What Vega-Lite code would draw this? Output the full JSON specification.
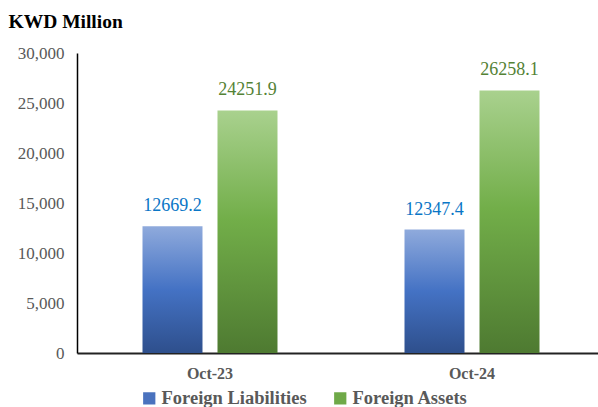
{
  "$schema": "https://vega.github.io/schema/vega-lite/v6.json",
  "autosize": {"type": "none"},
  "width": 528,
  "height": 300,
  "padding": {"left": 77, "top": 53, "right": 0, "bottom": 54},
  "background": "white",
  "config": {"view": {"stroke": null}, "font": "Times New Roman, Liberation Serif, serif"},
  "data": {"values": [
    {"period": "Oct-23", "series": "Foreign Liabilities", "value": 12669.2},
    {"period": "Oct-23", "series": "Foreign Assets", "value": 24251.9},
    {"period": "Oct-24", "series": "Foreign Liabilities", "value": 12347.4},
    {"period": "Oct-24", "series": "Foreign Assets", "value": 26258.1}
  ]},
  "encoding": {
    "x": {"field": "period", "type": "nominal", "sort": ["Oct-23", "Oct-24"],
      "scale": {"paddingInner": 0, "paddingOuter": 0.0076},
      "axis": {"title": null, "labelAngle": 0, "labelFont": "Times New Roman, Liberation Serif, serif", "labelFontWeight": "bold", "labelFontSize": 16, "labelColor": "#595959", "labelPadding": 12, "ticks": false, "domainColor": "#222222", "domainWidth": 2}},
    "xOffset": {"field": "series", "type": "nominal", "sort": ["Foreign Liabilities", "Foreign Assets"],
      "scale": {"domain": ["Foreign Liabilities", "Foreign Assets"], "paddingInner": 0.2, "paddingOuter": 0.8467}},
    "y": {"field": "value", "type": "quantitative",
      "scale": {"domain": [0, 30000], "nice": false},
      "axis": {"values": [0, 5000, 10000, 15000, 20000, 25000, 30000], "format": ",.0f", "grid": false, "ticks": false,
        "labelFont": "Times New Roman, Liberation Serif, serif", "labelFontSize": 17, "labelColor": "#595959", "labelPadding": 13,
        "domainColor": "#000000", "domainWidth": 1.5,
        "title": "KWD Million", "titleAngle": 0, "titleAlign": "left", "titleBaseline": "alphabetic", "titleX": -69, "titleY": -26,
        "titleFont": "Times New Roman, Liberation Serif, serif", "titleFontSize": 19.5, "titleFontWeight": "bold", "titleColor": "#000000"}}
  },
  "layer": [
    {
      "transform": [{"filter": "datum.series === 'Foreign Liabilities'"}],
      "mark": {"type": "bar", "color": {"gradient": "linear", "x1": 0, "y1": 0, "x2": 0, "y2": 1, "stops": [{"offset": 0, "color": "#8FAADC"}, {"offset": 0.5, "color": "#4472C4"}, {"offset": 1, "color": "#2E4F8C"}]}}
    },
    {
      "transform": [{"filter": "datum.series === 'Foreign Assets'"}],
      "mark": {"type": "bar", "color": {"gradient": "linear", "x1": 0, "y1": 0, "x2": 0, "y2": 1, "stops": [{"offset": 0, "color": "#A9D18E"}, {"offset": 0.45, "color": "#72AE49"}, {"offset": 1, "color": "#4E7A31"}]}}
    },
    {
      "mark": {"type": "bar", "opacity": 0},
      "encoding": {
        "color": {"field": "series", "type": "nominal",
          "scale": {"domain": ["Foreign Liabilities", "Foreign Assets"], "range": ["#4A72BE", "#6FA948"]},
          "legend": {"title": null, "orient": "none", "legendX": 63, "legendY": 336, "direction": "horizontal",
            "symbolType": "square", "symbolSize": 150, "symbolStrokeWidth": 0, "symbolOpacity": 1, "columnPadding": 24, "labelOffset": 3,
            "labelFont": "Times New Roman, Liberation Serif, serif", "labelFontSize": 18.5, "labelFontWeight": "bold", "labelColor": "#595959"}}
      }
    },
    {
      "mark": {"type": "text", "baseline": "bottom", "dy": -11, "fontSize": 18, "font": "Times New Roman, Liberation Serif, serif"},
      "encoding": {
        "text": {"field": "value", "type": "quantitative", "format": ".1f"},
        "color": {"condition": {"test": "datum.series === 'Foreign Liabilities'", "value": "#0A76C6"}, "value": "#548235"}
      }
    }
  ]
}
